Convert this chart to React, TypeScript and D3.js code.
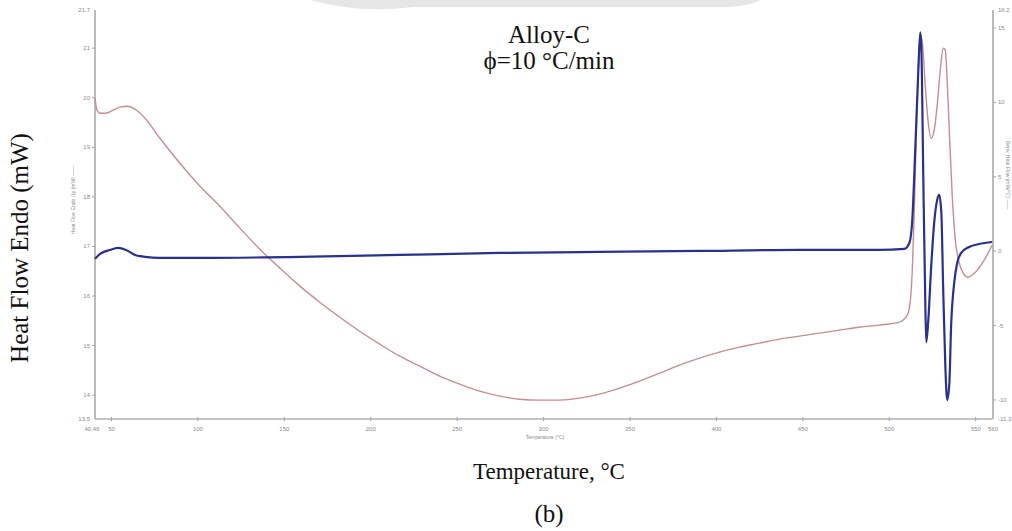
import React from "react";
import * as d3 from "d3";

// DSC scan of Alloy-C at 10 °C/min: heat flow (left axis) and its derivative (right axis)
const heatFlowTemp = [
  40.5, 43.4, 49.1, 53.8, 58.4, 63.6, 69.4, 78.0, 101.2, 159.0, 216.8, 274.6, 332.4, 390.2, 448.0,
  494.2, 508.7, 511.6, 513.3, 515.0, 516.8, 517.9, 518.5, 519.7, 520.8, 521.4, 522.5, 524.3, 526.0,
  527.7, 528.9, 530.1, 531.2, 532.4, 533.5, 534.7, 535.8, 537.6, 539.3, 541.6, 546.2, 552.0, 559.5,
];
const heatFlow = [
  16.75, 16.85, 16.93, 16.97, 16.93, 16.83, 16.79, 16.77, 16.77, 16.79, 16.83, 16.87, 16.89, 16.91, 16.93,
  16.93, 16.95, 17.07, 17.53, 18.94, 20.56, 21.32, 21.06, 18.34, 15.92, 15.07, 15.48, 16.63, 17.49,
  17.94, 18.04, 17.69, 16.12, 14.61, 13.9, 14.21, 15.42, 16.28, 16.67, 16.87, 16.99, 17.05, 17.09,
];

const derivTemp = [
  40.5, 41.6, 43.4, 46.8, 50.9, 54.9, 59.5, 63.6, 69.4, 78.0, 89.6, 101.2, 112.7, 124.3, 135.8, 147.4,
  159.0, 170.5, 182.1, 193.6, 205.2, 216.8, 228.3, 239.9, 251.5, 263.0, 274.6, 286.1, 297.7, 309.3,
  320.8, 332.4, 344.0, 355.5, 367.1, 378.6, 390.2, 401.7, 413.3, 424.9, 436.4, 448.0, 459.5, 471.1,
  482.7, 494.2, 505.8, 510.4, 512.2, 513.3, 514.5, 515.6, 516.8, 517.9, 519.1, 520.8, 522.5, 524.3,
  526.0, 527.7, 529.5, 531.2, 532.4, 533.5, 534.7, 536.4, 538.2, 540.5, 542.8, 545.1, 549.2, 554.9, 559.5,
];
const deriv = [
  10.28, 9.48, 9.27, 9.27, 9.48, 9.68, 9.74, 9.54, 8.94, 7.59, 5.91, 4.37, 3.02, 1.55, 0.13, -1.14,
  -2.35, -3.43, -4.44, -5.38, -6.25, -7.06, -7.73, -8.4, -8.94, -9.41, -9.74, -9.95, -10.01, -10.01,
  -9.88, -9.61, -9.21, -8.74, -8.2, -7.66, -7.19, -6.79, -6.45, -6.18, -5.91, -5.71, -5.51, -5.31,
  -5.11, -4.97, -4.77, -4.3, -3.29, -1.28, 2.76, 7.8, 12.16, 14.52, 14.05, 11.16, 8.67, 7.59,
  8.13, 9.81, 12.16, 13.64, 13.51, 11.49, 8.13, 3.76, 0.74, -0.81, -1.48, -1.75, -1.48, -0.6, 0.4,
];

const xTicks = [50, 100, 150, 200, 250, 300, 350, 400, 450, 500, 550];
const xEndLabels = ["40.46", "560"];
const leftTicks = [21, 20, 19, 18, 17, 16, 15, 14];
const leftEndLabels = ["21.7", "13.5"];
const rightTicks = [15, 10, 5, 0, -5, -10];
const rightEndLabels = ["16.2", "-11.3"];

const W = 1012;
const H = 531;
const plot = { left: 95, right: 993, top: 10, bottom: 419 };

const x = d3.scaleLinear().domain([40.46, 560]).range([plot.left, plot.right]);
const yLeft = d3.scaleLinear().domain([13.52, 21.77]).range([plot.bottom, plot.top]);
const yRight = d3.scaleLinear().domain([-11.28, 16.21]).range([plot.bottom, plot.top]);

const heatLine = d3
  .line<number>()
  .x((_, i) => x(heatFlowTemp[i]))
  .y((d) => yLeft(d))
  .curve(d3.curveMonotoneX);

const derivLine = d3
  .line<number>()
  .x((_, i) => x(derivTemp[i]))
  .y((d) => yRight(d))
  .curve(d3.curveMonotoneX);

const axisColor = "#a3a3a3";
const tickText = { fontFamily: "Liberation Sans, Arial, sans-serif", fontSize: 6, fill: "#8a8a8a" };
const serif = "Liberation Serif, Times New Roman, serif";

export default function App() {
  return (
    <svg
      width={W}
      height={H}
      viewBox={`0 0 ${W} ${H}`}
      style={{ position: "absolute", left: 0, top: 0, background: "#fff" }}
    >
      <rect x={0} y={0} width={W} height={H} fill="#fff" />
      {/* faint page shading along the top edge */}
      <path d="M310,0 Q360,14 413,7 L722,7 Q748,7 760,0 Z" fill="#e6e6e6" />

      {/* axes */}
      <line x1={plot.left} x2={plot.left} y1={plot.top} y2={plot.bottom} stroke={axisColor} strokeWidth={1.5} />
      <line x1={plot.right} x2={plot.right} y1={plot.top} y2={plot.bottom} stroke={axisColor} strokeWidth={1.5} />
      <line x1={plot.left} x2={plot.right} y1={plot.bottom} y2={plot.bottom} stroke="#c4c4c4" strokeWidth={2} />

      {/* bottom ticks */}
      {xTicks.map((t) => (
        <g key={`xt${t}`}>
          <line x1={x(t)} x2={x(t)} y1={plot.bottom - 2} y2={plot.bottom + 2} stroke={axisColor} />
          <text x={x(t)} y={plot.bottom + 12} textAnchor="middle" {...tickText}>
            {t}
          </text>
        </g>
      ))}
      <text x={plot.left - 3} y={plot.bottom + 12} textAnchor="middle" {...tickText}>
        {xEndLabels[0]}
      </text>
      <text x={plot.right} y={plot.bottom + 12} textAnchor="middle" {...tickText}>
        {xEndLabels[1]}
      </text>
      <text x={545} y={plot.bottom + 20} textAnchor="middle" {...tickText} fontSize={5}>
        Temperature (°C)
      </text>

      {/* left ticks */}
      {leftTicks.map((t) => (
        <g key={`yl${t}`}>
          <line x1={plot.left - 3} x2={plot.left} y1={yLeft(t)} y2={yLeft(t)} stroke={axisColor} />
          <text x={plot.left - 5} y={yLeft(t) + 2} textAnchor="end" {...tickText}>
            {t}
          </text>
        </g>
      ))}
      <text x={plot.left - 5} y={plot.top + 2} textAnchor="end" {...tickText}>
        {leftEndLabels[0]}
      </text>
      <text x={plot.left - 5} y={plot.bottom + 2} textAnchor="end" {...tickText}>
        {leftEndLabels[1]}
      </text>
      <text
        transform={`translate(75,200) rotate(-90)`}
        textAnchor="middle"
        {...tickText}
        fontSize={5}
      >
        Heat Flow Endo Up (mW) ——
      </text>

      {/* right ticks */}
      {rightTicks.map((t) => (
        <g key={`yr${t}`}>
          <line x1={plot.right} x2={plot.right + 3} y1={yRight(t)} y2={yRight(t)} stroke={axisColor} />
          <text x={plot.right + 5} y={yRight(t) + 2} textAnchor="start" {...tickText}>
            {t}
          </text>
        </g>
      ))}
      <text x={plot.right + 5} y={plot.top + 2} textAnchor="start" {...tickText}>
        {rightEndLabels[0]}
      </text>
      <text x={plot.right + 5} y={plot.bottom + 2} textAnchor="start" {...tickText}>
        {rightEndLabels[1]}
      </text>
      <text
        transform={`translate(1006,175) rotate(90)`}
        textAnchor="middle"
        {...tickText}
        fontSize={5}
      >
        Deriv. Heat Flow (mW/°C) ——
      </text>

      {/* curves */}
      <path d={derivLine(deriv) ?? ""} fill="none" stroke="#c48d93" strokeWidth={1.4} />
      <path d={heatLine(heatFlow) ?? ""} fill="none" stroke="#28318f" strokeWidth={2.2} />

      {/* annotations */}
      <text x={549} y={43} textAnchor="middle" fontFamily={serif} fontSize={25} fill="#111">
        Alloy-C
      </text>
      <text x={549} y={69} textAnchor="middle" fontFamily={serif} fontSize={25} fill="#111">
        ϕ=10 °C/min
      </text>
      <text x={549} y={479} textAnchor="middle" fontFamily={serif} fontSize={23} fill="#111">
        Temperature, °C
      </text>
      <text x={549} y={522} textAnchor="middle" fontFamily={serif} fontSize={25} fill="#111">
        (b)
      </text>
      <text
        transform="translate(28,248) rotate(-90)"
        textAnchor="middle"
        fontFamily={serif}
        fontSize={25}
        fill="#111"
      >
        Heat Flow Endo (mW)
      </text>
    </svg>
  );
}
